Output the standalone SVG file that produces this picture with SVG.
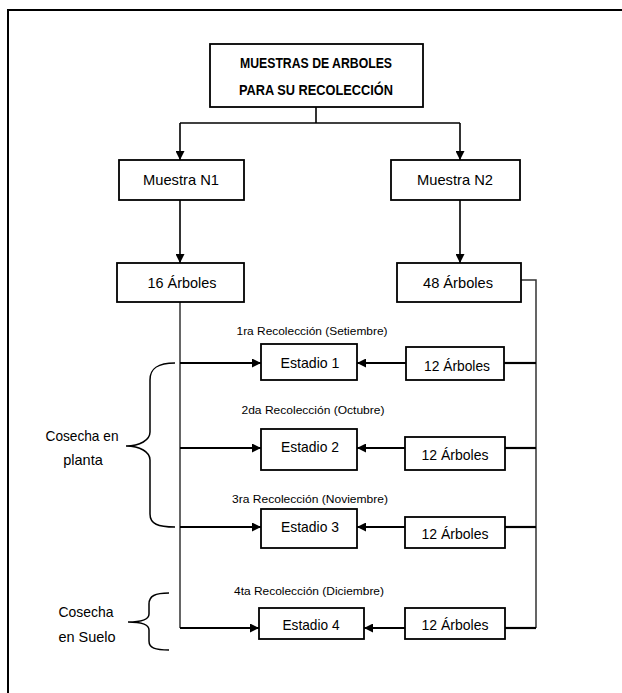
<svg xmlns="http://www.w3.org/2000/svg" width="622" height="693" viewBox="0 0 622 693">
<defs>
<style>
.box{fill:#fff;stroke:#000;stroke-width:1.8}
.t{font-family:"Liberation Sans",Arial,sans-serif;font-size:14.5px;fill:#000;text-anchor:middle}
.b{font-weight:bold;font-size:15px}
.s{font-size:11px}
.ln{fill:none;stroke:#000;stroke-width:1.6}
.lg{fill:none;stroke:#333;stroke-width:1.5}
.ar{fill:none;stroke:#000;stroke-width:2.2}
.br{fill:none;stroke:#000;stroke-width:1.5}
</style>
<marker id="ah" viewBox="0 0 10 10" refX="10" refY="5" markerWidth="10" markerHeight="9" markerUnits="userSpaceOnUse" orient="auto">
<path d="M0,0 L10,5 L0,10 Z" fill="#000"/>
</marker>
</defs>
<rect width="622" height="693" fill="#fff"/>
<path d="M8,693 L8,10 L622,10" fill="none" stroke="#000" stroke-width="2"/>

<g id="connectors">
<path class="ln" d="M316,107 L316,123"/>
<path class="ln" d="M180,123 L460,123"/>
<path class="ln" d="M180,123 L180,160" marker-end="url(#ah)"/>
<path class="ln" d="M460,123 L460,160" marker-end="url(#ah)"/>
<path class="ln" d="M180,200 L180,263" marker-end="url(#ah)"/>
<path class="ln" d="M460,200 L460,263" marker-end="url(#ah)"/>
<path class="lg" d="M180,302 L180,628"/>
<path class="lg" d="M521,280 L536,280 L536,628"/>
<path class="ar" d="M180,363 L261,363" marker-end="url(#ah)"/>
<path class="ar" d="M180,448 L261,448" marker-end="url(#ah)"/>
<path class="ar" d="M180,527 L261,527" marker-end="url(#ah)"/>
<path class="ar" d="M180,628 L259,628" marker-end="url(#ah)"/>
<path class="ar" d="M406,363 L357,363" marker-end="url(#ah)"/>
<path class="ar" d="M405,448 L357,448" marker-end="url(#ah)"/>
<path class="ar" d="M405,527 L357,527" marker-end="url(#ah)"/>
<path class="ar" d="M405,628 L364,628" marker-end="url(#ah)"/>
<path class="ar" d="M504,363 L536,363"/>
<path class="ar" d="M505,448 L536,448"/>
<path class="ar" d="M505,527 L536,527"/>
<path class="ar" d="M505,628 L536,628"/>
</g>

<g id="top">
<rect class="box" x="210" y="44" width="213" height="63"/>
<text class="t b" x="316" y="68" textLength="152" lengthAdjust="spacingAndGlyphs">MUESTRAS DE ARBOLES</text>
<text class="t b" x="316" y="95" textLength="154" lengthAdjust="spacingAndGlyphs">PARA SU RECOLECCIÓN</text>
</g>
<g id="muestra1">
<rect class="box" x="119" y="160" width="125" height="40"/>
<text class="t" x="181" y="185" textLength="76" lengthAdjust="spacingAndGlyphs">Muestra N1</text>
</g>
<g id="muestra2">
<rect class="box" x="391" y="160" width="129" height="40"/>
<text class="t" x="455" y="185" textLength="76" lengthAdjust="spacingAndGlyphs">Muestra N2</text>
</g>
<g id="arboles16">
<rect class="box" x="117" y="263" width="127" height="39"/>
<text class="t" x="182" y="288" textLength="69" lengthAdjust="spacingAndGlyphs">16 Árboles</text>
</g>
<g id="arboles48">
<rect class="box" x="397" y="263" width="124" height="39"/>
<text class="t" x="458" y="288" textLength="70" lengthAdjust="spacingAndGlyphs">48 Árboles</text>
</g>

<g id="label1"><text class="t s" x="312" y="335" textLength="151" lengthAdjust="spacingAndGlyphs">1ra Recolección (Setiembre)</text></g>
<g id="label2"><text class="t s" x="313" y="414" textLength="143" lengthAdjust="spacingAndGlyphs">2da Recolección (Octubre)</text></g>
<g id="label3"><text class="t s" x="310" y="503" textLength="156" lengthAdjust="spacingAndGlyphs">3ra Recolección (Noviembre)</text></g>
<g id="label4"><text class="t s" x="309" y="595" textLength="150" lengthAdjust="spacingAndGlyphs">4ta Recolección (Diciembre)</text></g>

<g id="estadio1">
<rect class="box" x="261" y="344" width="96" height="36"/>
<text class="t" x="310" y="368" textLength="59" lengthAdjust="spacingAndGlyphs">Estadio 1</text>
</g>
<g id="estadio2">
<rect class="box" x="261" y="429" width="96" height="41"/>
<text class="t" x="310" y="452" textLength="58" lengthAdjust="spacingAndGlyphs">Estadio 2</text>
</g>
<g id="estadio3">
<rect class="box" x="261" y="509" width="96" height="39"/>
<text class="t" x="310" y="532" textLength="58" lengthAdjust="spacingAndGlyphs">Estadio 3</text>
</g>
<g id="estadio4">
<rect class="box" x="259" y="608" width="105" height="31"/>
<text class="t" x="311" y="630" textLength="57" lengthAdjust="spacingAndGlyphs">Estadio 4</text>
</g>

<g id="arb12a">
<rect class="box" x="406" y="347" width="98" height="33"/>
<text class="t" x="457" y="371" textLength="66" lengthAdjust="spacingAndGlyphs">12 Árboles</text>
</g>
<g id="arb12b">
<rect class="box" x="405" y="437" width="100" height="33"/>
<text class="t" x="455" y="460" textLength="67" lengthAdjust="spacingAndGlyphs">12 Árboles</text>
</g>
<g id="arb12c">
<rect class="box" x="405" y="517" width="100" height="31"/>
<text class="t" x="455" y="539" textLength="67" lengthAdjust="spacingAndGlyphs">12 Árboles</text>
</g>
<g id="arb12d">
<rect class="box" x="405" y="608" width="100" height="31"/>
<text class="t" x="455" y="630" textLength="67" lengthAdjust="spacingAndGlyphs">12 Árboles</text>
</g>

<g id="brace-planta">
<path class="br" d="M175,363 C158,363 150,368 150,380 L150,432 C150,440 140,446 126,446 C140,446 150,452 150,460 L150,514 C150,524 158,527 175,527"/>
<text class="t" x="82" y="441" textLength="73" lengthAdjust="spacingAndGlyphs">Cosecha en</text>
<text class="t" x="83" y="465">planta</text>
</g>
<g id="brace-suelo">
<path class="br" d="M169,593 C155,593 149,596 149,604 L149,614 C149,619 142,622 128,622 C142,622 149,625 149,630 L149,641 C149,648 155,650 169,650"/>
<text class="t" x="86" y="617" textLength="55" lengthAdjust="spacingAndGlyphs">Cosecha</text>
<text class="t" x="87" y="642">en Suelo</text>
</g>
</svg>
